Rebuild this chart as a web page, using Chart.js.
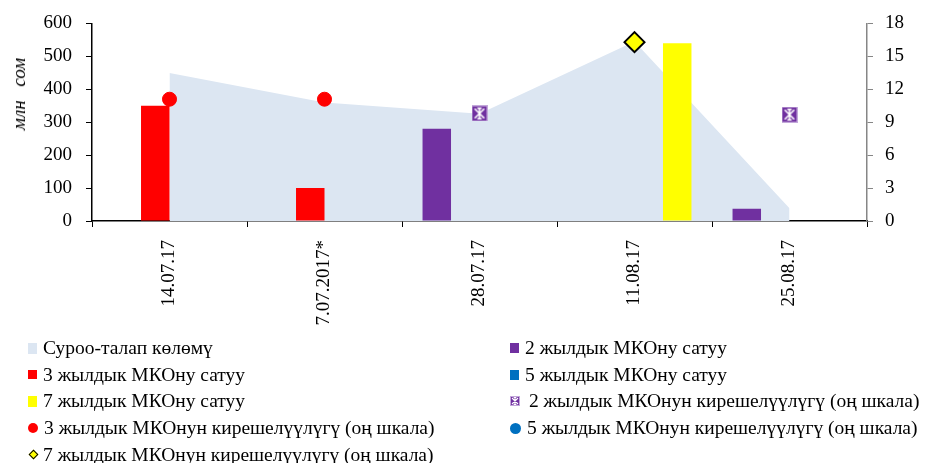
<!DOCTYPE html>
<html>
<head>
<meta charset="utf-8">
<script src="https://cdn.jsdelivr.net/npm/chart.js@4.4.1/dist/chart.umd.min.js"></script>
<style>
  body { margin: 0; background: #fff; }
  #wrap { position: relative; width: 925px; height: 463px; font-family: 'Liberation Serif', serif; }
  #unit { position: absolute; left: 19px; top: 94px; transform: translate(-50%, -50%) rotate(-90deg);
          font-style: italic; font-size: 19px; word-spacing: 9px; white-space: nowrap; }
  #legend { position: absolute; left: 28px; top: 335px; display: grid;
            grid-template-columns: 482px auto; grid-auto-rows: 26.6px; font-size: 19.5px; }
  .item { display: flex; align-items: center; white-space: nowrap; }
  .mk { display: inline-block; margin-right: 6px; box-sizing: border-box; }
</style>
</head>
<body>
<div id="wrap">
  <canvas id="bondChart" width="925" height="463"></canvas>
  <div id="unit">млн сом</div>
  <div id="legend"></div>
</div>
<script>
// auction dates and values
const dates = ['14.07.17', '7.07.2017*', '28.07.17', '11.08.17', '25.08.17'];
const demand = [450, 360, 326, 545, 39];          // Суроо-талап, млн сом
const sales2 = [null, null, 280, null, 37];
const sales3 = [350, 100, null, null, null];
const sales5 = [null, null, null, null, null];
const sales7 = [null, null, null, 540, null];
const yield2 = [null, null, 9.8, null, 9.7];      // right scale, %
const yield3 = [11.1, 11.1, null, null, null];
const yield5 = [null, null, null, null, null];
const yield7 = [null, null, null, 16.3, null];
const leftTicks = [0, 100, 200, 300, 400, 500, 600];
const rightTicks = [0, 3, 6, 9, 12, 15, 18];

// purple square with a white "Ж" like mark
function makeStar(size, lw) {
    const c = document.createElement('canvas');
    c.width = size; c.height = size;
    const g = c.getContext('2d');
    g.fillStyle = '#7030A0';
    g.fillRect(0, 0, size, size);
    g.strokeStyle = '#C3A8DA';
    g.lineWidth = 1;
    g.strokeRect(0.5, 0.5, size - 1, size - 1);
    g.strokeStyle = '#fff';
    g.lineWidth = lw;
    const a = size * 0.2, b = size * 0.8, m = size / 2;
    g.beginPath();
    g.moveTo(a, a); g.lineTo(b, b);
    g.moveTo(b, a); g.lineTo(a, b);
    g.moveTo(m, a - 1); g.lineTo(m, b + 1);
    g.moveTo(m - size * 0.14, a - 0.5); g.lineTo(m + size * 0.14, a - 0.5);
    g.moveTo(m - size * 0.14, b + 0.5); g.lineTo(m + size * 0.14, b + 0.5);
    g.stroke();
    return c;
}

Chart.defaults.font.family = "'Liberation Serif', serif";
Chart.defaults.color = '#000';

const ctx = document.getElementById('bondChart').getContext('2d');
const bondChart = new Chart(ctx, {
    type: 'bar',
    data: {
        labels: dates,
        datasets: [
            { type: 'line', label: 'Суроо-талап көлөмү', data: demand, fill: 'origin',
              backgroundColor: '#DCE6F2', borderWidth: 0, pointRadius: 0, tension: 0, order: 10, yAxisID: 'y' },
            { label: '2 жылдык МКОну сатуу', data: sales2, backgroundColor: '#7030A0', order: 5, yAxisID: 'y' },
            { label: '3 жылдык МКОну сатуу', data: sales3, backgroundColor: '#FF0000', order: 5, yAxisID: 'y' },
            { label: '5 жылдык МКОну сатуу', data: sales5, backgroundColor: '#0070C0', order: 5, yAxisID: 'y' },
            { label: '7 жылдык МКОну сатуу', data: sales7, backgroundColor: '#FFFF00', order: 5, yAxisID: 'y' },
            { type: 'line', label: ' 2 жылдык МКОнун кирешелүүлүгү (оң шкала)', data: yield2, showLine: false,
              pointStyle: makeStar(16, 1.6), pointRadius: 8, order: 1, yAxisID: 'y1' },
            { type: 'line', label: '3 жылдык МКОнун кирешелүүлүгү (оң шкала)', data: yield3, showLine: false,
              pointStyle: 'circle', pointRadius: 7, backgroundColor: '#FF0000', borderColor: '#FF0000', order: 1, yAxisID: 'y1' },
            { type: 'line', label: '5 жылдык МКОнун кирешелүүлүгү (оң шкала)', data: yield5, showLine: false,
              pointStyle: 'circle', pointRadius: 7, backgroundColor: '#0070C0', borderColor: '#0070C0', order: 1, yAxisID: 'y1' },
            { type: 'line', label: '7 жылдык МКОнун кирешелүүлүгү (оң шкала)', data: yield7, showLine: false,
              pointStyle: 'rectRot', pointRadius: 10, backgroundColor: '#FFFF00', borderColor: '#000', borderWidth: 2, order: 1, yAxisID: 'y1' }
        ]
    },
    options: {
        responsive: false,
        animation: false,
        layout: { padding: { top: 22, left: 0, right: 0, bottom: 0 } },
        datasets: { bar: { categoryPercentage: 0.735, barPercentage: 1 } },
        plugins: { legend: { display: false }, tooltip: { enabled: false } },
        scales: {
            x: {
                grid: { drawOnChartArea: false, color: '#000', tickLength: 6, offset: true },
                border: { color: '#000', width: 1.5 },
                ticks: { font: { size: 19 }, minRotation: 90, maxRotation: 90, padding: 13 },
                afterFit: s => { s.height = 242; }
            },
            y: {
                position: 'left', min: 0, max: 600,
                afterBuildTicks: s => { s.ticks = leftTicks.map(v => ({ value: v })); },
                grid: { drawOnChartArea: false, color: '#000', tickLength: 6 },
                border: { color: '#000', width: 1.5 },
                ticks: { font: { size: 19, lineHeight: 1 }, padding: 14 },
                afterFit: s => { s.width = 92; }
            },
            y1: {
                position: 'right', min: 0, max: 18,
                afterBuildTicks: s => { s.ticks = rightTicks.map(v => ({ value: v })); },
                grid: { drawOnChartArea: false, color: '#868686', tickLength: 6 },
                border: { color: '#868686', width: 1.5 },
                ticks: { font: { size: 19, lineHeight: 1 }, padding: 12 },
                afterFit: s => { s.width = 58; }
            }
        }
    }
});

// legend in two columns, same order as the picture
const legend = document.getElementById('legend');
const markers = [
    'width:9px;height:11px;background:#DCE6F2',
    'width:9px;height:10px;background:#7030A0',
    'width:9px;height:9px;background:#FF0000',
    'width:9px;height:10px;background:#0070C0',
    'width:9px;height:11px;background:#FFFF00',
    'star',
    'width:10px;height:10px;border-radius:50%;background:#FF0000',
    'width:11px;height:11px;border-radius:50%;background:#0070C0',
    'diamond'
];
bondChart.data.datasets.forEach((ds, i) => {
    const item = document.createElement('div');
    item.className = 'item';
    let mk;
    if (markers[i] === 'star') {
        mk = makeStar(10, 1.1);
        mk.className = 'mk';
        mk.style.marginRight = '4px';
    } else {
        mk = document.createElement('span');
        mk.className = 'mk';
        if (markers[i] === 'diamond') {
            mk.style.cssText = 'width:7px;height:7px;background:#FFFF00;border:1.5px solid #000;transform:rotate(45deg);margin-left:2px;margin-right:6px';
        } else {
            mk.style.cssText = markers[i];
        }
    }
    item.appendChild(mk);
    const t = document.createElement('span');
    t.textContent = ds.label;
    t.style.whiteSpace = 'pre';
    item.appendChild(t);
    legend.appendChild(item);
});
</script>
</body>
</html>
